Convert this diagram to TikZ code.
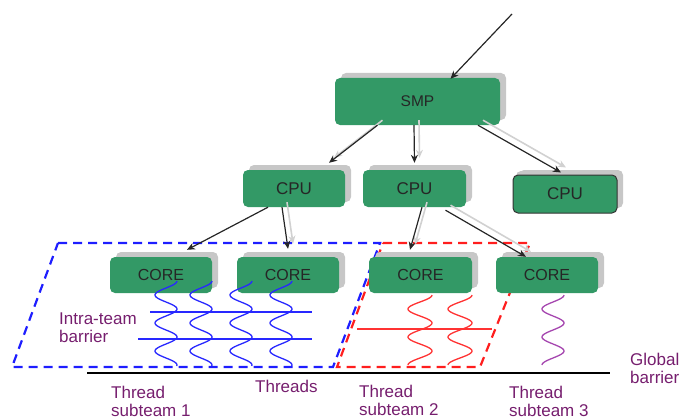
\documentclass[tikz,border=0pt]{standalone}
\usepackage{fontspec}
\setmainfont{Liberation Sans}
\usetikzlibrary{arrows.meta,shadows}
\definecolor{boxgreen}{RGB}{51,153,102}
\definecolor{lblpurple}{RGB}{118,30,110}
\definecolor{thblue}{RGB}{40,40,255}
\definecolor{thred}{RGB}{255,50,50}
\definecolor{thpurple}{RGB}{165,70,175}
\definecolor{dashblue}{RGB}{30,30,255}
\definecolor{dashred}{RGB}{255,30,30}
\begin{document}
\begin{tikzpicture}[x=1pt,y=-1pt,
  unit/.style={rectangle, rounded corners=5pt, fill=boxgreen, text=black!85,
    font=\fontsize{16}{18}\selectfont, inner sep=0pt,
    drop shadow={shadow xshift=6pt, shadow yshift=5pt, fill=black!22, opacity=1}},
  cpufont/.style={font=\fontsize{17}{18}\selectfont},
  lbl/.style={font=\fontsize{17}{18}\selectfont, text=lblpurple, inner sep=0pt, align=left, anchor=west},
  conn/.style={line width=1.2pt, black!85, -{Stealth[length=8pt,width=7pt]}},
  connshadow/.style={line width=1.6pt, black!18, -{Stealth[length=8pt,width=7pt]}, transform canvas={xshift=5pt,yshift=5pt}},
  teambox/.style={line width=2.2pt, dash pattern=on 9pt off 6pt},
  thread/.style={line width=1.3pt},
  barrierline/.style={line width=1.3pt}
]
\useasboundingbox (0,0) rectangle (683,420);

% team regions
\draw[teambox, dashblue] (58,243) -- (380,243) -- (333,367) -- (12,367) -- cycle;
\draw[teambox, dashred] (383,243) -- (530,243) -- (480,367) -- (337,367) -- cycle;

% global barrier
\draw[line width=2.5pt] (87,373) -- (610,373);

% units
\node[unit, minimum width=165pt, minimum height=47pt, font=\fontsize{15.5}{18}\selectfont] (smp) at (417.5,101.5) {SMP};
\node[unit, cpufont, minimum width=102pt, minimum height=37pt] (cpu1) at (294,188.5) {CPU};
\node[unit, cpufont, minimum width=103pt, minimum height=37pt] (cpu2) at (414.5,188.5) {CPU};
\node[unit, cpufont, minimum width=104pt, minimum height=38pt, draw=black!80, line width=1pt,
  drop shadow={shadow xshift=3pt, shadow yshift=4pt, fill=black!22, opacity=1}] (cpu3) at (565,194) {CPU};
\node[unit, minimum width=102pt, minimum height=36pt] (core1) at (161,275) {CORE};
\node[unit, minimum width=102pt, minimum height=36pt] (core2) at (288,275) {CORE};
\node[unit, minimum width=103pt, minimum height=36pt] (core3) at (420.5,275) {CORE};
\node[unit, minimum width=102pt, minimum height=36pt] (core4) at (547,275) {CORE};

% connectors
\coordinate (in) at (512,14);
\draw[conn] (in) -- ([xshift=33pt,yshift=-1pt]smp.north);

\draw[connshadow] ([xshift=-40pt]smp.south) -- ([xshift=35pt,yshift=7pt]cpu1.north);
\draw[connshadow] ([xshift=-3.5pt]smp.south) -- ([yshift=7pt]cpu2.north);
\draw[connshadow] ([xshift=60.5pt]smp.south) -- ([xshift=-4pt,yshift=2pt]cpu3.north);
\draw[connshadow] ([xshift=-12pt]cpu1.south) -- ([yshift=8pt]core2.north);
\draw[connshadow] ([xshift=7.5pt]cpu2.south) -- ([xshift=-10.5pt,yshift=7pt]core3.north);
\draw[connshadow] ([xshift=31pt,yshift=-3pt]cpu2.south) -- ([xshift=-21pt]core4.north);

\draw[conn] ([xshift=-40pt]smp.south) -- ([xshift=35pt,yshift=7pt]cpu1.north);
\draw[conn] ([xshift=-3.5pt]smp.south) -- ([yshift=7pt]cpu2.north);
\draw[conn] ([xshift=60.5pt]smp.south) -- ([xshift=-4pt,yshift=2pt]cpu3.north);
\draw[conn] ([xshift=-26pt]cpu1.south) -- ([xshift=26pt,yshift=7pt]core1.north);
\draw[conn] ([xshift=-12pt]cpu1.south) -- ([yshift=8pt]core2.north);
\draw[conn] ([xshift=7.5pt]cpu2.south) -- ([xshift=-10.5pt,yshift=7pt]core3.north);
\draw[conn] ([xshift=31pt,yshift=-3pt]cpu2.south) -- ([xshift=-21pt]core4.north);

% threads
\foreach \xc in {166,201,241,281}
  \draw[thread, thblue] plot[domain=0:85, samples=90, smooth, variable=\t] ({\xc+11*cos(12.857*\t)}, {281+\t});
\foreach \xc in {420,460}
  \draw[thread, thred] plot[domain=0:70, samples=80, smooth, variable=\t] ({\xc+12*cos(12.857*\t)}, {295+\t});
\draw[thread, thpurple] plot[domain=0:70, samples=80, smooth, variable=\t] ({553+11*cos(12.857*\t)}, {295+\t});

% intra-team barriers
\draw[barrierline, thblue] (150,312) -- (312,312);
\draw[barrierline, thblue] (138,339) -- (312,339);
\draw[barrierline, thred] (357,329) -- (492,329);

% labels
\node[lbl] (intra) at (59,328) {Intra-team\\barrier};
\node[lbl] (threads) at (255,386) {Threads};
\node[lbl] (st1) at (111,401) {Thread\\subteam 1};
\node[lbl] (st2) at (359,400) {Thread\\subteam 2};
\node[lbl] (st3) at (509,401) {Thread\\subteam 3};
\node[lbl] (glob) at (630,368) {Global\\barrier};
\end{tikzpicture}
\end{document}
